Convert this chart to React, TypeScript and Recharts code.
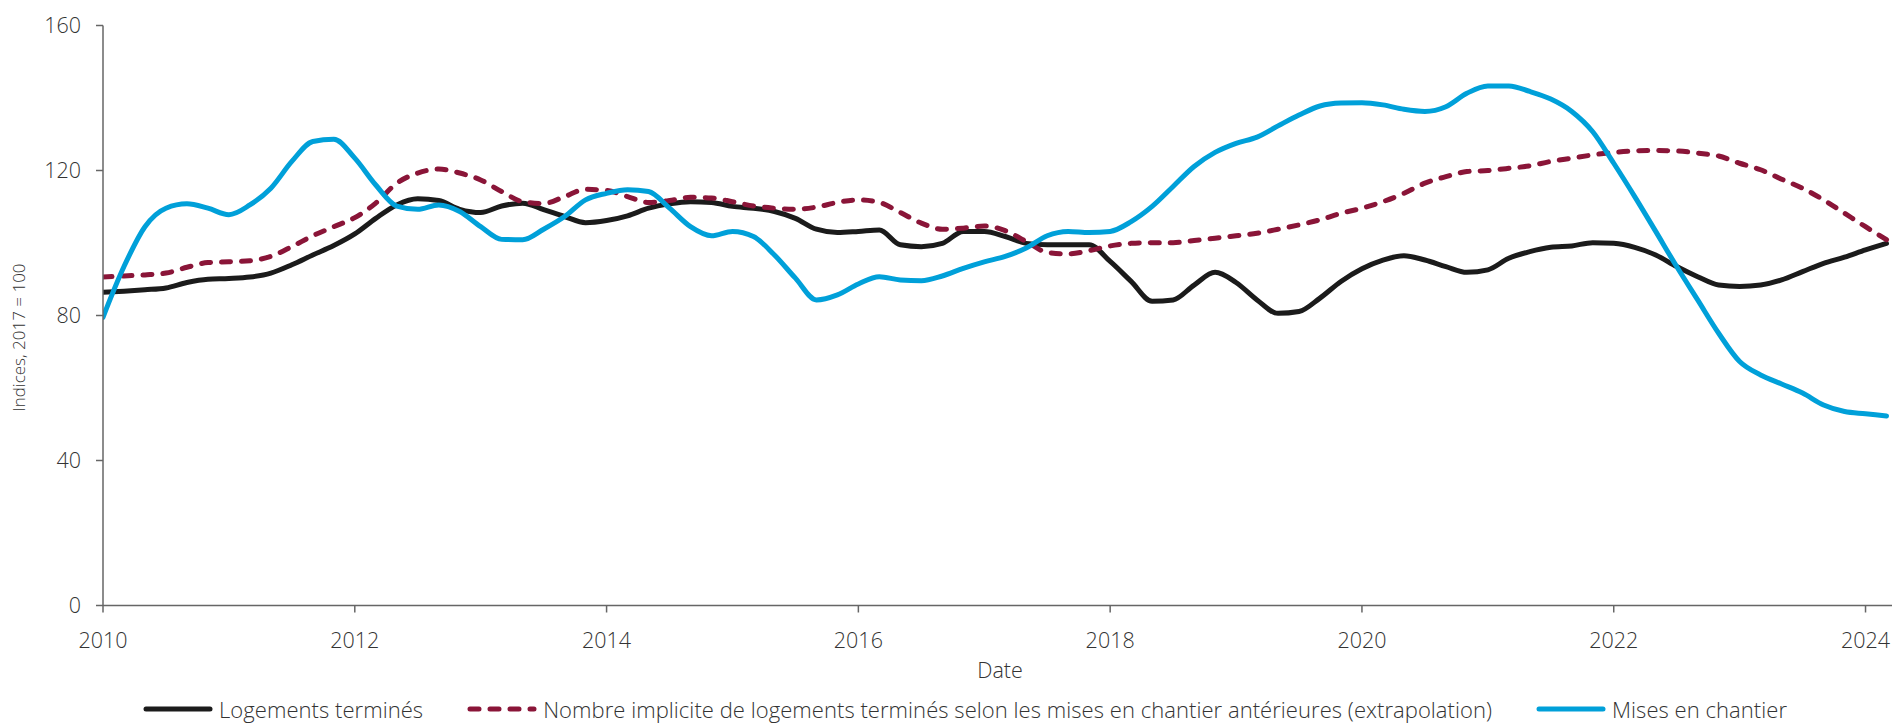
import React from 'react';
import { LineChart, Line, XAxis, YAxis, Legend } from 'recharts';

// Dates: every two months, Jan 2010 .. Mar 2024 (decimal years)
const dates: number[] = Array.from({ length: 86 }, (_, i) => 2010 + i / 6);

const logementsTermines: number[] = [
  86.4, 86.7, 87.1, 87.6, 89.1, 90.0, 90.2, 90.6, 91.7, 94.0, 96.7, 99.3, 102.5, 106.8, 110.5, 112.2, 111.7, 109.3, 108.4, 110.2, 111.0, 109.2,
  107.3, 105.6, 106.2, 107.5, 109.6, 110.8, 111.4, 111.2, 110.1, 109.6, 108.7, 106.8, 103.8, 102.9, 103.2, 103.6, 99.5, 99.0, 99.9, 103.2, 103.2,
  101.8, 99.9, 99.5, 99.5, 99.5, 94.9, 89.4, 83.9, 84.3, 88.4, 91.9, 89.1, 84.3, 80.6, 81.1, 84.8, 89.4, 92.9, 95.3, 96.5, 95.3,
  93.5, 91.9, 92.6, 95.8, 97.6, 98.8, 99.2, 100.1, 99.9, 98.8, 96.7, 93.5, 90.7, 88.4, 88.0, 88.4, 89.8, 92.1, 94.4, 96.1, 98.1, 99.9,
];

const implicite: number[] = [
  90.6, 90.9, 91.2, 91.7, 93.3, 94.6, 94.8, 95.1, 96.3, 99.0, 102.0, 104.5, 107.0, 111.0, 116.5, 119.3, 120.4, 119.3, 117.4, 114.2, 111.4, 110.9,
  112.8, 114.8, 114.5, 112.8, 111.2, 111.7, 112.6, 112.4, 111.4, 110.2, 109.6, 109.3, 109.9, 111.2, 111.9, 111.2, 108.4, 105.5, 103.8, 104.1, 104.7,
  103.4, 100.4, 97.4, 97.0, 97.9, 99.2, 99.9, 100.1, 100.1, 100.7, 101.3, 102.0, 102.7, 103.8, 105.0, 106.4, 108.2, 109.6, 111.4, 113.7, 116.5,
  118.3, 119.7, 120.0, 120.6, 121.3, 122.5, 123.4, 124.3, 125.0, 125.4, 125.5, 125.4, 124.8, 124.0, 122.0, 120.2, 117.6, 115.1, 111.9, 108.2, 104.5, 100.9,
];

const misesEnChantier: number[] = [
  79.5, 93.5, 104.5, 109.6, 110.8, 109.6, 107.8, 110.5, 115.1, 122.5, 128.0, 128.6, 123.4, 116.0, 110.2, 109.3, 110.5, 108.7, 104.5, 101.0, 100.9, 103.8,
  107.3, 111.9, 113.7, 114.7, 114.2, 109.6, 104.5, 102.0, 103.2, 101.8, 96.7, 90.3, 84.3, 85.7, 88.7, 90.7, 89.8, 89.6, 90.9, 93.0, 94.8,
  96.3, 98.6, 102.0, 103.2, 102.9, 103.2, 105.9, 110.1, 115.6, 121.1, 125.0, 127.5, 129.2, 132.3, 135.3, 137.8, 138.6, 138.7, 138.1, 136.9, 136.3,
  137.6, 141.3, 143.3, 143.3, 141.8, 139.7, 136.3, 130.7, 122.0, 112.8, 103.2, 93.5, 84.3, 75.1, 67.3, 63.6, 61.1, 58.6, 55.3, 53.5, 52.9, 52.3,
];

const xTicks: number[] = [2010, 2012, 2014, 2016, 2018, 2020, 2022, 2024];
const yTicks: number[] = [0, 40, 80, 120, 160];

const seriesNames = {
  termines: 'Logements terminés',
  implicite: 'Nombre implicite de logements terminés selon les mises en chantier antérieures (extrapolation)',
  mises: 'Mises en chantier',
};

const data = dates.map((d, i) => ({
  date: d,
  termines: logementsTermines[i],
  implicite: implicite[i],
  mises: misesEnChantier[i],
}));

const FONT = '"Open Sans", Lato, sans-serif';
const FS = 21.5;
const TEXT_COLOR = '#333';
const AXIS_COLOR = '#666';
const C_BLACK = '#1b1b1b';
const C_RED = '#8a1538';
const C_BLUE = '#00a0d9';
const DASH = '9 11';

const legendItems = [
  { key: 'termines', color: C_BLACK, dash: undefined as string | undefined },
  { key: 'implicite', color: C_RED, dash: DASH },
  { key: 'mises', color: C_BLUE, dash: undefined as string | undefined },
];

const CustomLegend = () => (
  <div
    style={{
      display: 'flex',
      alignItems: 'center',
      paddingLeft: 143,
      fontFamily: FONT,
      fontWeight: 300,
      fontSize: 22,
      letterSpacing: 0.05,
      color: TEXT_COLOR,
      whiteSpace: 'nowrap',
      lineHeight: '28px',
    }}
  >
    {legendItems.map((it, idx) => (
      <div key={it.key} style={{ display: 'flex', alignItems: 'center', marginRight: idx < 2 ? 44 : 0 }}>
        <svg width={70} height={10} style={{ marginRight: 6 }}>
          <line
            x1={3}
            y1={5}
            x2={67}
            y2={5}
            stroke={it.color}
            strokeWidth={5}
            strokeLinecap="round"
            strokeDasharray={it.dash}
          />
        </svg>
        <span>{(seriesNames as any)[it.key]}</span>
      </div>
    ))}
  </div>
);

const YLabel = (props: any) => {
  const vb = props.viewBox || {};
  const cx = 18;
  const cy = (vb.y ?? 17.5) + (vb.height ?? 580) / 2 + 22;
  return (
    <text
      x={cx}
      y={cy}
      transform={`rotate(-90, ${cx}, ${cy})`}
      textAnchor="middle"
      dominantBaseline="central"
      fill={TEXT_COLOR}
      fontSize={17}
      fontFamily={FONT}
      fontWeight={300}
    >
      Indices, 2017 = 100
    </text>
  );
};

export default function App() {
  return (
    <div style={{ marginLeft: -8, width: 1900, height: 715, background: '#fff' }}>
      <LineChart
        width={1900}
        height={715}
        data={data}
        margin={{ top: 17.5, right: 3, left: 0, bottom: 9.5 }}
      >
        <XAxis
          dataKey="date"
          type="number"
          domain={[2010, 2024.25]}
          ticks={xTicks}
          allowDataOverflow
          height={80}
          stroke={AXIS_COLOR}
          strokeWidth={1.5}
          tickSize={7}
          tickMargin={20}
          tick={{ fill: TEXT_COLOR, fontSize: FS, fontFamily: FONT, fontWeight: 300 }}
          label={{
            value: 'Date',
            position: 'insideBottom',
            offset: 8,
            fill: TEXT_COLOR,
            fontSize: FS,
            fontFamily: FONT,
            fontWeight: 300,
          }}
        />
        <YAxis
          type="number"
          domain={[0, 160]}
          ticks={yTicks}
          width={103}
          stroke={AXIS_COLOR}
          strokeWidth={1.5}
          tickSize={7}
          tickMargin={15}
          tick={{ fill: TEXT_COLOR, fontSize: FS, fontFamily: FONT, fontWeight: 300 }}
          label={{ content: YLabel }}
        />
        <Legend
          content={<CustomLegend />}
          wrapperStyle={{ position: 'absolute', left: 0, top: 687, width: 1900, height: 28 }}
        />
        <Line
          type="monotone"
          dataKey="termines"
          name={seriesNames.termines}
          stroke={C_BLACK}
          strokeWidth={5}
          dot={false}
          strokeLinecap="round"
          strokeLinejoin="round"
          isAnimationActive={false}
        />
        <Line
          type="monotone"
          dataKey="implicite"
          name={seriesNames.implicite}
          stroke={C_RED}
          strokeWidth={5}
          strokeDasharray={DASH}
          dot={false}
          strokeLinecap="round"
          strokeLinejoin="round"
          isAnimationActive={false}
        />
        <Line
          type="monotone"
          dataKey="mises"
          name={seriesNames.mises}
          stroke={C_BLUE}
          strokeWidth={5}
          dot={false}
          strokeLinecap="round"
          strokeLinejoin="round"
          isAnimationActive={false}
        />
      </LineChart>
    </div>
  );
}
